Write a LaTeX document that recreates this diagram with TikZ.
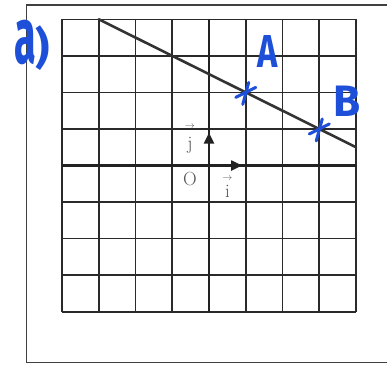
\documentclass[tikz,border=0pt]{standalone}
\usepackage{fontspec}
\usepackage{graphicx}
\newfontfamily\handfont{Fira Sans}
\usetikzlibrary{arrows.meta}
\definecolor{ink}{HTML}{1E4FD8}
\definecolor{gridc}{HTML}{2A2A2A}
\definecolor{printc}{HTML}{555555}
\tikzset{
  gridline/.style={draw=gridc, line width=1.6pt},
  axisline/.style={draw=gridc!80!black, line width=2.4pt},
  frameline/.style={draw=black!75, line width=1.1pt},
  dataline/.style={draw=black!80, line width=2.6pt, line cap=round},
  vecarrow/.style={draw=gridc!80!black, line width=2.2pt, -{Triangle[length=11pt,width=10pt]}},
  crossmark/.style={draw=ink, line width=3pt, line cap=round},
  hand/.style={text=ink, font=\handfont\bfseries\fontsize{44}{44}\selectfont, inner sep=0pt},
  printed/.style={text=printc, font=\fontsize{19}{19}\selectfont, inner sep=0pt, align=center}
}
\begin{document}
\begin{tikzpicture}[x=1pt,y=-1pt]
\useasboundingbox (0,0) rectangle (387,364);
\fill[white] (0,0) rectangle (387,364);
% frame
\draw[frameline] (387,5) -- (26.7,5) -- (26.7,362.7) -- (387,362.7);
\begin{scope}[shift={(209,165.5)}, x=36.75pt, y=36.55pt]
  \foreach \k in {-4,...,4} {
    \draw[gridline] (\k,-4) -- (\k,4);
    \draw[gridline] (-4,\k) -- (4,\k);
  }
  \coordinate (O) at (0,0);
  \draw[axisline] (-4,0) -- (4,0);
  \draw[axisline] (0,-4) -- (0,4);
  \coordinate (itip) at (0.9,0);
  \coordinate (jtip) at (0,0.9);
  \draw[vecarrow] (O) -- (itip);
  \draw[vecarrow] (O) -- (jtip);
  \coordinate (P) at (-3,4);
  \coordinate (Q) at (4,0.5);
  \coordinate (A) at (1,2);
  \coordinate (B) at (3,1);
  \draw[dataline] (P) -- (Q);
  \foreach \p in {A,B} {
    \draw[crossmark] (\p) ++(-10pt,-5pt) -- ++(20pt,10pt);
    \draw[crossmark] (\p) ++(-3pt,-12pt) -- ++(6pt,22pt);
  }
  \node[printed] (labO) at (-0.52,-0.38) {O};
  \node[printed] (labj) at (-0.52,0.72) {\shortstack{\fontsize{10}{10}\selectfont$\rightarrow$\\[5pt]j}};
  \node[printed] (labi) at (0.5,-0.6) {\shortstack{\fontsize{10}{10}\selectfont$\rightarrow$\\[2pt]i}};
\end{scope}
\node[hand] (labA) at (268,51) {\scalebox{0.78}[1.05]{A}};
\node[hand] (labB) at (347,101) {B};
\node[hand] (laba) at (32,45) {\scalebox{0.9}[1.8]{a})};
\end{tikzpicture}
\end{document}
